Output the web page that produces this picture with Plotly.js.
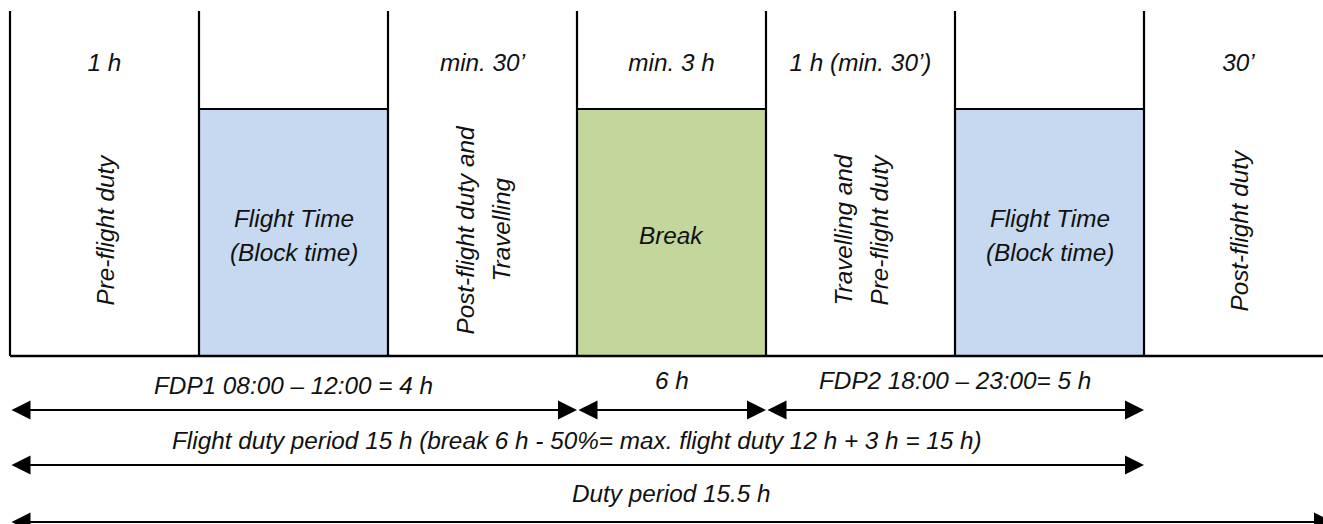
<!DOCTYPE html>
<html>
<head>
<meta charset="utf-8">
<script src="https://cdn.plot.ly/plotly-3.0.1.min.js"></script>
<style>html,body{margin:0;padding:0;background:#fff;overflow:hidden}#chart{width:1323px;height:524px}</style>
</head>
<body>
<div id="chart"></div>
<script>
// ---- data ----
const segments = ['Pre-flight duty', 'Flight Time<br>(Block time)', 'Post-flight duty and<br>Travelling', 'Break', 'Travelling and<br>Pre-flight duty', 'Flight Time<br>(Block time)', 'Post-flight duty'];
const segmentKinds = ['duty', 'flight', 'duty', 'break', 'duty', 'flight', 'duty'];
const durations = ['1 h', '', 'min. 30\u2019', 'min. 3 h', '1 h (min. 30\u2019)', '', '30\u2019'];
const periodLabels = ['FDP1 08:00 \u2013 12:00 = 4 h', '6 h', 'FDP2 18:00 \u2013 23:00= 5 h', 'Flight duty period 15 h (break 6 h - 50%= max. flight duty 12 h + 3 h = 15 h)', 'Duty period 15.5 h'];
const periodStart = [0, 3, 4, 0, 0];
const periodEnd = [3, 4, 6, 6, 7];
const periodRow = [0, 0, 0, 1, 2];

// ---- styling / layout constants ----
const FONT = {family: '"Liberation Sans", Arial, sans-serif', size: 24.3, color: '#111', style: 'italic'};
const kindFill = {flight: '#C6D9F1', break: '#C3D69B'};
const Y_TOP = 11, Y_BOX = 109, Y_BASE = 356, Y_DUR = 63;
const Y_ROT = 230, Y_HOR = 235, ROT_GAP = 36, HOR_GAP = 34;
const rowArrowY = [410, 465, 522];
const rowTextY = [380, 440, 493];
const COLPX = 189, X0PX = 10, W = 1323, H = 524;

const shapes = [];
segmentKinds.forEach((k, i) => {
  if (kindFill[k]) {
    shapes.push({type: 'rect', xref: 'x', yref: 'y', x0: i, x1: i + 1, y0: Y_BOX, y1: Y_BASE,
      fillcolor: kindFill[k], line: {color: '#000', width: 2}, layer: 'below'});
  }
});
for (let i = 0; i < segments.length; i++) {
  shapes.push({type: 'line', xref: 'x', yref: 'y', x0: i, x1: i, y0: Y_TOP, y1: Y_BASE, line: {color: '#000', width: 2.2}});
}
shapes.push({type: 'line', xref: 'x', yref: 'y', x0: 0, x1: segments.length, y0: Y_BASE, y1: Y_BASE, line: {color: '#000', width: 2.5}});

const annotations = [];
segments.forEach((s, i) => {
  const lines = s.split('<br>');
  const n = lines.length;
  const rotated = segmentKinds[i] === 'duty';
  lines.forEach((ln, k) => {
    const off = (k - (n - 1) / 2);
    annotations.push({
      xref: 'x', yref: 'y', x: i + 0.5, y: rotated ? Y_ROT : Y_HOR,
      text: ln, showarrow: false, font: FONT, textangle: rotated ? -90 : 0,
      xanchor: 'center', yanchor: 'middle',
      xshift: rotated ? off * ROT_GAP : 0,
      yshift: rotated ? 0 : -off * HOR_GAP
    });
  });
});
periodLabels.forEach((lab, j) => {
  const r = periodRow[j];
  annotations.push({
    xref: 'x', yref: 'y', axref: 'x', ayref: 'y',
    x: periodEnd[j], y: rowArrowY[r], ax: periodStart[j], ay: rowArrowY[r],
    text: '', showarrow: true, arrowside: 'end+start', arrowhead: 2, arrowsize: 1.9, arrowwidth: 2, arrowcolor: '#000', standoff: 0, startstandoff: 0
  });
  annotations.push({
    xref: 'x', yref: 'y', x: (periodStart[j] + periodEnd[j]) / 2, y: rowTextY[r] + (j === 0 ? 5 : 0),
    text: lab, showarrow: false, font: FONT, xanchor: 'center', yanchor: 'middle'
  });
});

const trace = {
  type: 'scatter', mode: 'text',
  x: durations.map((d, i) => i + 0.5), y: durations.map(() => Y_DUR + 2),
  text: durations, textposition: 'middle center', textfont: FONT,
  hoverinfo: 'skip', showlegend: false, cliponaxis: false
};

const layout = {
  width: W, height: H, margin: {l: 0, r: 0, t: 0, b: 0},
  paper_bgcolor: '#fff', plot_bgcolor: '#fff', showlegend: false,
  xaxis: {range: [-X0PX / COLPX, (W - X0PX) / COLPX], visible: false, fixedrange: true},
  yaxis: {range: [H, 0], visible: false, fixedrange: true},
  shapes: shapes, annotations: annotations
};
Plotly.newPlot('chart', [trace], layout, {staticPlot: true, displayModeBar: false});
</script>
</body>
</html>
